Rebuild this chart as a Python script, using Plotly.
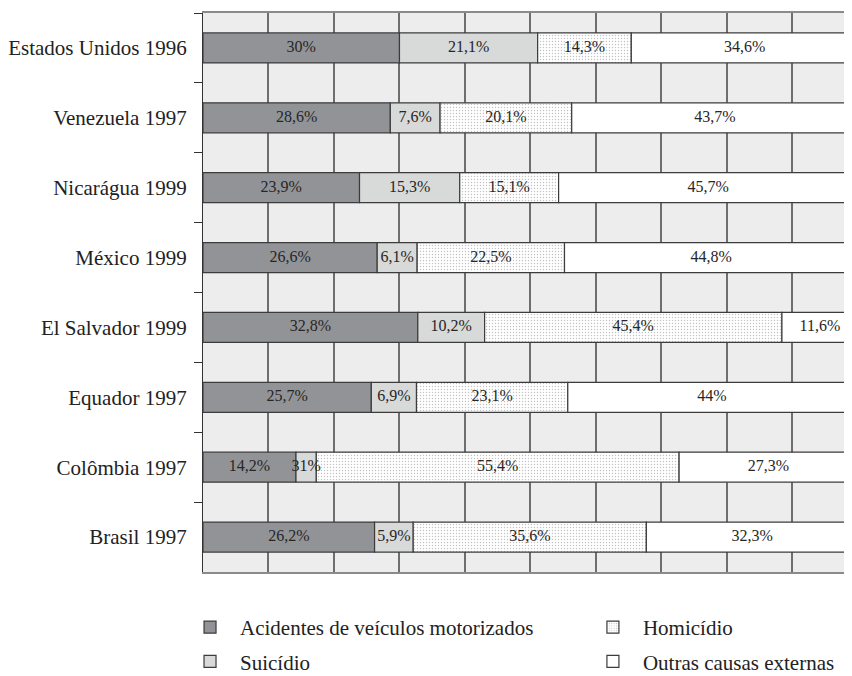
import numpy as np
import plotly.graph_objects as go

countries = ["Estados Unidos 1996", "Venezuela 1997", "Nicarágua 1999", "México 1999",
             "El Salvador 1999", "Equador 1997", "Colômbia 1997", "Brasil 1997"]
acidentes = [30, 28.6, 23.9, 26.6, 32.8, 25.7, 14.2, 26.2]
suicidio = [21.1, 7.6, 15.3, 6.1, 10.2, 6.9, 3.1, 5.9]
homicidio = [14.3, 20.1, 15.1, 22.5, 45.4, 23.1, 55.4, 35.6]
outras = [34.6, 43.7, 45.7, 44.8, 11.6, 44, 27.3, 32.3]
suicidio_text = ["21,1%", "7,6%", "15,3%", "6,1%", "10,2%", "6,9%", "31%", "5,9%"]

def fmt(vals):
    return [("%g" % v).replace(".", ",") + "%" for v in vals]

series = [
    ("Acidentes de veículos motorizados", acidentes, fmt(acidentes), dict(color="#929396"), "legend", "g1"),
    ("Suicídio", suicidio, suicidio_text, dict(color="#d8d9d9"), "legend", "g2"),
    ("Homicídio", homicidio, fmt(homicidio),
     dict(color="#ffffff", pattern=dict(shape=".", fgcolor="#858585", bgcolor="#ffffff", size=3, solidity=0.18)),
     "legend2", "g3"),
    ("Outras causas externas", outras, fmt(outras), dict(color="#ffffff"), "legend2", "g4"),
]

fig = go.Figure()
base = np.zeros(len(countries))
label_x, label_y, label_t = [], [], []
for name, vals, texts, marker, leg, grp in series:
    v = np.array(vals, dtype=float)
    m = dict(marker)
    m["line"] = dict(color="#3c3c3c", width=1.2)
    fig.add_trace(go.Bar(
        y=countries, x=v, base=base, orientation="h", name=name, marker=m,
        legend=leg, legendgroup=grp, hoverinfo="skip",
    ))
    label_x.extend(list(base + v / 2))
    label_y.extend(countries)
    label_t.extend(texts)
    base = base + v

fig.add_trace(go.Scatter(
    x=label_x, y=label_y, text=label_t, mode="text", showlegend=False,
    textfont=dict(family="Liberation Serif", size=16, color="#262626"),
    hoverinfo="skip", cliponaxis=False,
))

fig.update_layout(
    width=844, height=700,
    margin=dict(l=195, r=0, t=5, b=136),
    paper_bgcolor="white", plot_bgcolor="#ededed",
    barmode="overlay", bargap=0.57,
    font=dict(family="Liberation Serif", color="#222222"),
    legend=dict(x=-0.0354, y=-0.0626, xanchor="left", yanchor="top", itemwidth=50,
                font=dict(size=21, color="#222222"), tracegroupgap=4, traceorder="grouped",
                bgcolor="rgba(0,0,0,0)"),
    legend2=dict(x=0.5854, y=-0.0626, xanchor="left", yanchor="top", itemwidth=50,
                 font=dict(size=21, color="#222222"), tracegroupgap=4, traceorder="grouped",
                 bgcolor="rgba(0,0,0,0)"),
)
fig.update_xaxes(range=[0, 99.1], dtick=10, showticklabels=False, showgrid=True,
                 gridcolor="#6e6e6e", gridwidth=1.5, zeroline=False,
                 showline=True, mirror=True, linecolor="#8a8a8a", linewidth=1.5, ticks="")
fig.update_yaxes(type="category", autorange="reversed", tickson="boundaries", ticks="outside",
                 ticklen=8, tickcolor="#333333", tickwidth=1, showgrid=False,
                 showline=True, linecolor="#333333", linewidth=1.2,
                 tickfont=dict(family="Liberation Serif", size=21, color="#222222"),
                 ticklabelstandoff=11)

fig.write_html("out.html")
